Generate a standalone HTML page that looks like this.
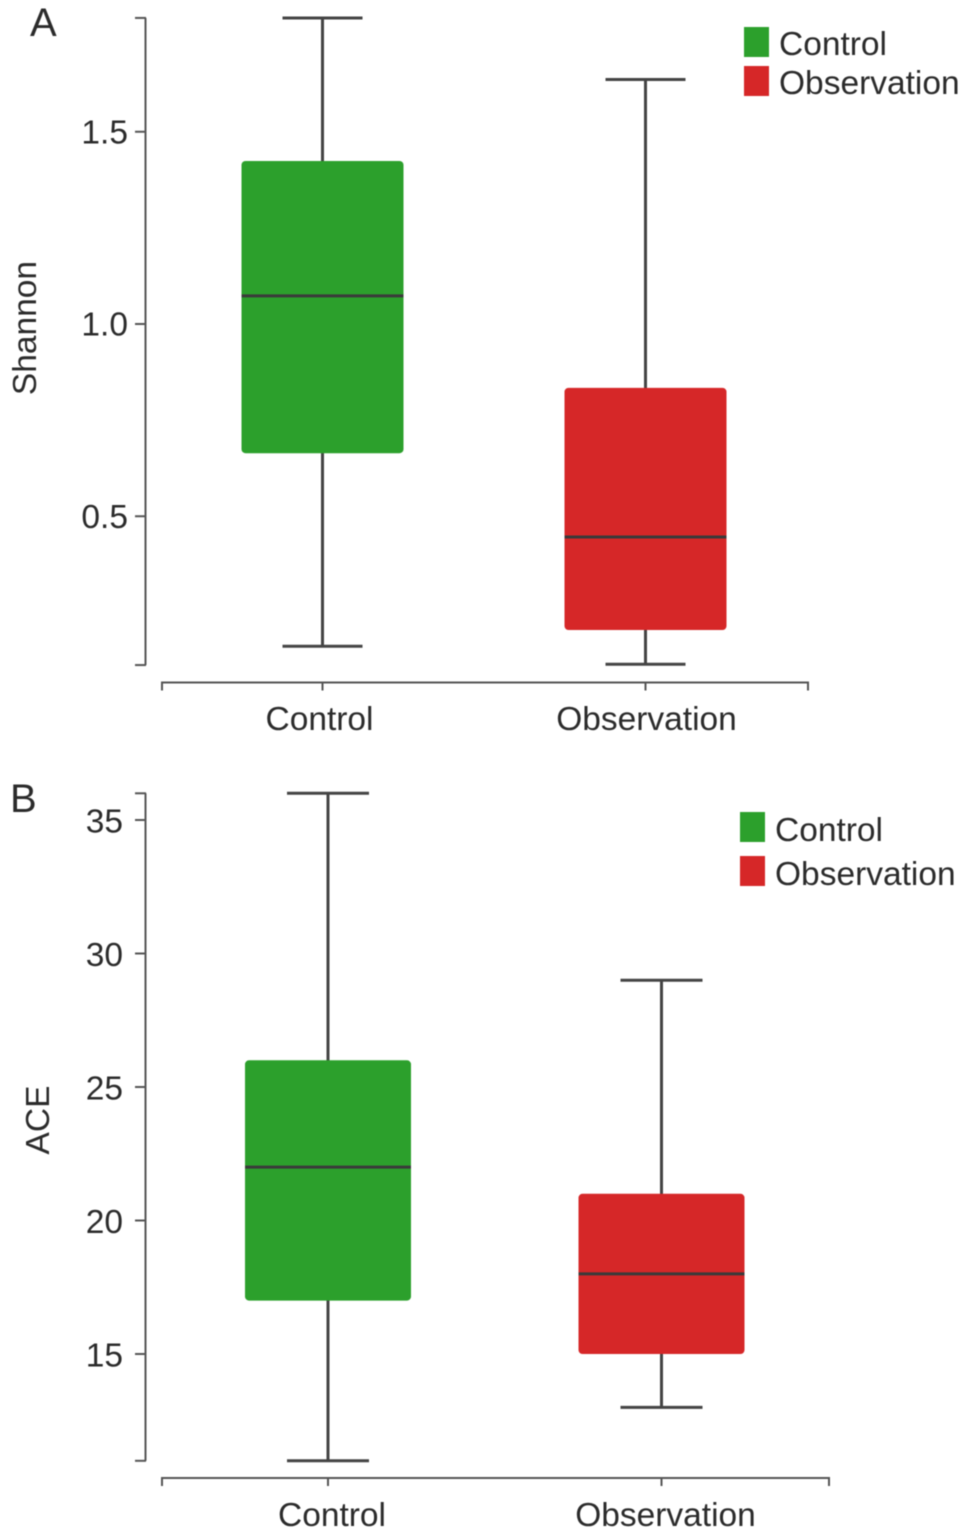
<!DOCTYPE html>
<html lang="en">
<head>
<meta charset="utf-8">
<title>Shannon and ACE box plots</title>
<style>
html,body{margin:0;padding:0;background:#fff;}
svg{display:block;filter:blur(0.45px);}
text{font-family:"Liberation Sans",sans-serif;fill:#2b2b2b;}
</style>
</head>
<body>
<svg id="chart" xmlns="http://www.w3.org/2000/svg" width="969" height="1535" viewBox="0 0 969 1535"></svg>
<script>
var categories = ['Control', 'Observation'];
var seriesColors = ['#2ca02c', '#d62728'];

var shannonTicks = ['0.5', '1.0', '1.5'];
var shannonHigh = [1.796, 1.636];
var shannonQ3 = [1.424, 0.834];
var shannonMedian = [1.073, 0.446];
var shannonQ1 = [0.664, 0.204];
var shannonLow = [0.162, 0.115];
var shannonAxisRange = [0.113, 1.796];

var aceTicks = ['15', '20', '25', '30', '35'];
var aceHigh = [36, 29];
var aceQ3 = [26, 21];
var aceMedian = [22, 18];
var aceQ1 = [17, 15];
var aceLow = [11, 13];
var aceAxisRange = [11, 36];

var svg = document.getElementById('chart');
var NS = 'http://www.w3.org/2000/svg';

function make(tag, attrs, parent) {
  var el = document.createElementNS(NS, tag);
  for (var k in attrs) { el.setAttribute(k, attrs[k]); }
  parent.appendChild(el);
  return el;
}

function drawPanel(cfg) {
  var panel = make('g', {}, svg);
  
  

  function yScale(v) {
    return cfg.yRef + (v - cfg.vRef) * cfg.pxPerUnit * -1;
  }
  function xScale(i) {
    return cfg.xCenter0 + i * cfg.xStep;
  }
  var axisColor = '#555';
  var fontSize = 33.5;

  var letter = make('text', {x: cfg.letterX, y: cfg.letterY, 'font-size': 40}, panel);
  letter.textContent = cfg.letter;
  
  

  var title = make('text', {x: 0, y: 0, 'font-size': fontSize, 'text-anchor': 'middle',
    transform: 'translate(' + cfg.titleX + ',' + cfg.titleY + ') rotate(-90)'}, panel);
  title.textContent = cfg.title;
  
  

  var yAxis = make('line', {x1: 145.5, x2: 145.5, y1: yScale(cfg.range[1]), y2: yScale(cfg.range[0]),
    stroke: axisColor, 'stroke-width': 2}, panel);
  
  

  cfg.range.forEach(function (v) {
    var endTick = make('line', {x1: 135, x2: 146, y1: yScale(v), y2: yScale(v), stroke: axisColor, 'stroke-width': 2}, panel);
    
    
  });

  cfg.ticks.forEach(function (label) {
    var v = parseFloat(label);
    var tick = make('line', {x1: 135, x2: 146, y1: yScale(v), y2: yScale(v), stroke: axisColor, 'stroke-width': 2}, panel);
    
    
    var text = make('text', {x: cfg.tickLabelX, y: yScale(v) + cfg.tickLabelDy, 'font-size': fontSize, 'text-anchor': 'end'}, panel);
    text.textContent = label;
    
    
  });

  var xAxis = make('line', {x1: 161, x2: cfg.xAxisEnd + 1, y1: cfg.xAxisY, y2: cfg.xAxisY, stroke: axisColor, 'stroke-width': 2}, panel);
  
  

  [162, cfg.xAxisEnd].forEach(function (x) {
    var endTick = make('line', {x1: x, x2: x, y1: cfg.xAxisY, y2: cfg.xAxisY + 8, stroke: axisColor, 'stroke-width': 2}, panel);
    
    
  });

  categories.forEach(function (name, i) {
    var cx = xScale(i);
    var slug = name.toLowerCase();

    var tick = make('line', {x1: cx, x2: cx, y1: cfg.xAxisY, y2: cfg.xAxisY + 8, stroke: axisColor, 'stroke-width': 2}, panel);
    
    

    var label = make('text', {x: cx + cfg.xLabelShift[i], y: cfg.xLabelY, 'font-size': fontSize, 'text-anchor': 'middle'}, panel);
    label.textContent = name;
    
    

    var whisker = make('line', {x1: cx, x2: cx, y1: yScale(cfg.high[i]), y2: yScale(cfg.low[i]), stroke: '#444', 'stroke-width': 3}, panel);
    
    

    [cfg.high[i], cfg.low[i]].forEach(function (v) {
      var cap = make('line', {x1: cx - cfg.capHalf, x2: cx + cfg.capHalf, y1: yScale(v), y2: yScale(v), stroke: '#444', 'stroke-width': 3}, panel);
      
      
    });

    var top = yScale(cfg.q3[i]);
    var bottom = yScale(cfg.q1[i]);
    var box = make('rect', {x: cx - cfg.boxHalf, y: top, width: cfg.boxHalf * 2, height: bottom - top, rx: 4, ry: 4, fill: seriesColors[i]}, panel);
    
    

    var median = make('line', {x1: cx - cfg.boxHalf, x2: cx + cfg.boxHalf, y1: yScale(cfg.median[i]), y2: yScale(cfg.median[i]), stroke: '#3a3a3a', 'stroke-width': 3}, panel);
    
    

    var swatch = make('rect', {x: cfg.legendX, y: cfg.legendY[i], width: 25, height: 30, fill: seriesColors[i]}, panel);
    
    

    var legendText = make('text', {x: cfg.legendX + 35, y: cfg.legendY[i] + cfg.legendTextDy, 'font-size': fontSize}, panel);
    legendText.textContent = name;
    
    
  });
}

drawPanel({
  key: 'shannon', letter: 'A', title: 'Shannon',
  letterX: 30, letterY: 36, titleX: 36, titleY: 328, tickLabelX: 128, tickLabelDy: 11.5,
  vRef: 1.0, yRef: 324, pxPerUnit: 384.5,
  range: shannonAxisRange, ticks: shannonTicks,
  high: shannonHigh, q3: shannonQ3, median: shannonMedian, q1: shannonQ1, low: shannonLow,
  xCenter0: 322.5, xStep: 323, boxHalf: 81, capHalf: 40,
  xAxisY: 682.5, xAxisEnd: 808, xLabelY: 730, xLabelShift: [-3, 1],
  legendX: 744, legendY: [27, 66], legendTextDy: 28
});

drawPanel({
  key: 'ace', letter: 'B', title: 'ACE',
  letterX: 10, letterY: 812, titleX: 49, titleY: 1120, tickLabelX: 123, tickLabelDy: 12.5,
  vRef: 25, yRef: 1087, pxPerUnit: 26.7,
  range: aceAxisRange, ticks: aceTicks,
  high: aceHigh, q3: aceQ3, median: aceMedian, q1: aceQ1, low: aceLow,
  xCenter0: 328, xStep: 333.5, boxHalf: 83, capHalf: 41,
  xAxisY: 1478, xAxisEnd: 829, xLabelY: 1526, xLabelShift: [4, 4],
  legendX: 740, legendY: [812, 856], legendTextDy: 29
});
</script>
</body>
</html>
